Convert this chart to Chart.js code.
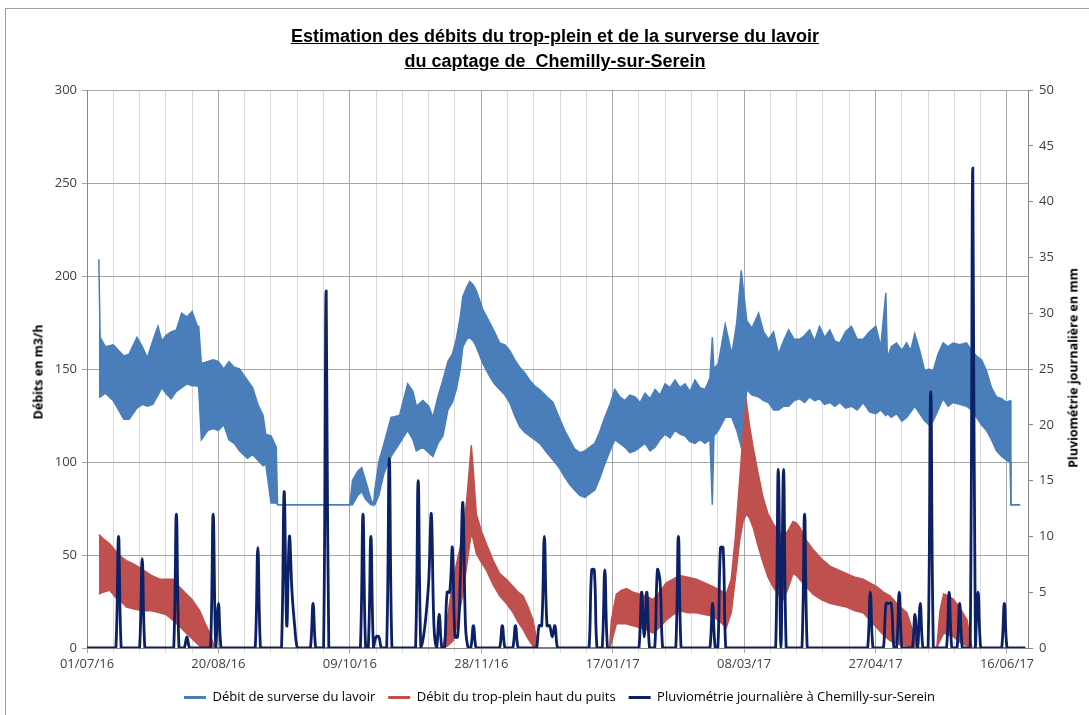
<!DOCTYPE html>
<html lang="fr">
<head>
<meta charset="utf-8">
<title>Estimation des débits - Chemilly-sur-Serein</title>
<script src="https://cdn.jsdelivr.net/npm/chart.js@4.4.1/dist/chart.umd.min.js"></script>
<style>
  html, body { margin: 0; padding: 0; background: #fff; }
  #wrap { position: relative; width: 1089px; height: 715px; overflow: hidden; }
  #frame { position: absolute; left: 5px; top: 8px; right: -3px; bottom: -3px; border: 1px solid #a0a0a0; }
  #titre {
    position: absolute; left: 0; top: 24px; width: 1110px; text-align: center;
    font: bold 18px "Liberation Sans Narrow", "Arial Narrow", sans-serif; line-height: 25px;
    color: #000; text-decoration: underline; white-space: pre;
  }
  .axe {
    position: absolute; font: bold 12.5px "Open Sans", sans-serif; color: #000; white-space: nowrap;
    transform: translate(-50%, -50%) rotate(-90deg);
  }
  canvas { position: absolute; left: 0; top: 0; }
</style>
</head>
<body>
<div id="wrap">
  <div id="frame"></div>
  <canvas id="graph" width="1089" height="715"></canvas>
  <div id="titre">Estimation des débits du trop-plein et de la surverse du lavoir
du captage de  Chemilly-sur-Serein</div>
  <div class="axe" style="left:38px; top:372px;">Débits en m3/h</div>
  <div class="axe" style="left:1073px; top:368px;">Pluviométrie journalière en mm</div>
</div>
<script>
// jours comptés depuis le 01/07/16
const xTickLabels = ["01/07/16", "20/08/16", "09/10/16", "28/11/16", "17/01/17", "08/03/17", "27/04/17", "16/06/17"];

// débit de surverse du lavoir (m3/h) : enveloppe haute / basse de la bande
const blueDays = [4.5, 5, 7, 10, 12, 14, 16, 19, 21, 23, 25, 27, 28.5, 30, 32, 34, 36, 38, 40, 42, 42.5,
  43.5, 46, 48, 50, 52, 54, 56, 58, 61, 63, 65, 67, 68, 70, 72, 72.5, 100, 101, 103, 104.5, 106, 108, 109,
  109.5, 111, 113, 115.7, 118.9, 122, 124, 125.3, 127.8, 130, 131.6, 133.5, 135.4, 137.3, 139, 140.5, 142,
  143, 144.5, 145.6, 147, 148.1, 150.6, 153.2, 155, 157, 159, 160.8, 162.7, 164.6, 166.5, 168.4, 170.3,
  172.2, 175, 177.3, 179.6, 181.7, 183.6, 185.5, 187.5, 189.4, 191.3, 193.2, 195, 197, 199, 200.8, 202.7,
  204.6, 206.5, 208.5, 210.4, 212.3, 214.2, 216.1, 218, 219.9, 221.8, 223.7, 225.6, 227.5, 229.4, 231.3,
  233.2, 235.1, 237, 237.9, 238.5, 240.2, 242.8, 245.3, 247.2, 248.9, 251, 253, 255.5, 257.4, 259.3, 261.2,
  263.1, 265, 266.9, 269, 271.1, 273, 274.9, 276.8, 278.7, 280.6, 282.6, 284.5, 286.4, 288.6, 290.8, 293,
  295.3, 297.7, 300.1, 302, 303.9, 304.5, 306, 308, 310, 311.8, 313.4, 314.9, 316.8, 318.7, 320.3, 321.9,
  323.8, 325.7, 327.6, 329.5, 332, 334.6, 336.5, 338.4, 340.3, 342.2, 344.1, 346, 348, 349.8, 351.2, 351.5, 355];
const blueHigh = [209, 167, 162, 163, 160, 157, 158, 167, 162, 156, 165, 173, 165, 168, 170, 171, 180, 178, 181, 173, 173,
  153, 154, 155, 154, 150, 154, 151, 150, 144, 140, 131, 125, 115, 114, 108, 77, 77, 90, 95, 97, 90, 80, 77,
  85, 100, 110, 124, 125, 142, 138, 130, 133, 130, 124, 135, 144, 154, 158, 166, 178,
  189, 194, 197, 195, 192, 182, 175, 170, 164, 163, 160, 155, 151, 148, 144, 141,
  139, 135, 132, 124, 117, 112, 107, 105, 106, 108, 110, 116, 124, 131, 139, 135,
  133, 136, 135, 132, 137, 134, 139, 136, 142, 140, 144, 140, 142, 138, 144,
  140, 139, 145, 167, 150, 153, 174, 158, 175, 203, 176, 172, 180, 170, 166, 170,
  158, 165, 171, 166, 166, 168, 171, 165, 173, 167, 171, 165, 164, 170, 173, 166,
  166, 170, 173, 162, 191, 156, 162, 164, 160, 164, 160, 169, 160, 149, 150, 149,
  158, 164, 162, 164, 163, 164, 160, 157, 155, 149, 140, 135, 134, 132, 133, 77, 77];
const blueLow = [135, 135, 137, 133, 128, 123, 123, 129, 131, 130, 131, 136, 140, 137, 134, 138, 140, 142, 141, 141, 140,
  112, 117, 118, 117, 120, 112, 110, 106, 102, 104, 101, 98, 99, 78, 78, 77, 77, 77, 82, 84, 80, 77, 77,
  77, 82, 94, 103, 110, 117, 112, 106, 108, 105, 103, 110, 114, 128, 132, 139, 150,
  162, 166, 167, 165, 162, 153, 146, 142, 139, 136, 132, 125, 119, 116, 114, 112,
  110, 105, 101, 97, 92, 88, 85, 82, 81, 83, 85, 91, 99, 106, 112, 110,
  108, 105, 106, 108, 110, 106, 108, 112, 115, 113, 117, 115, 114, 111, 110,
  112, 110, 112, 77, 114, 117, 124, 124, 117, 108, 139, 136, 135, 133, 132, 128,
  128, 130, 130, 133, 134, 132, 135, 133, 134, 131, 132, 130, 132, 129, 130, 128,
  132, 127, 126, 128, 125, 126, 124, 126, 122, 124, 127, 130, 126, 122, 120, 122,
  128, 134, 130, 132, 131, 130, 128, 124, 120, 117, 112, 106, 103, 101, 100, 77, 77];

// débit du trop-plein haut du puits (m3/h)
const redDays = [4.5, 6, 8.6, 11, 13, 15, 18, 21.3, 24.5, 27.7, 30, 32.7, 35, 37.8, 40, 42.9, 45, 46.7, 48.6,
  135.5, 137, 139.3, 141, 143, 144.5, 146.2, 147, 148.1, 150, 151.9, 154.5, 157, 159.5, 162.1, 164, 165.9,
  167.8, 169.7, 171.6, 198.8, 199.5, 201.4, 203.3, 205.2, 207.7, 210.2, 212.7, 215.3, 217.8, 220.4, 223,
  225.5, 228.6, 231.8, 235, 238.2, 241, 243.2, 245.1, 246.7, 248.3, 249.6, 250.8, 252, 253.4, 255.3, 257.2,
  259.1, 261, 262.9, 264.8, 266.7, 268.6, 270, 271.1, 273.6, 276.2, 279.4, 282.6, 285.8, 289, 292.2, 295.3,
  297.8, 300.4, 303, 305.5, 308.7, 311.9, 314, 316.3, 323.3, 324.5, 325.9, 327.8, 329.7, 332.3, 334.8, 336.7, 352];
const redHigh = [61, 59, 56, 52, 49, 47, 45, 42, 39, 37, 37, 37, 33, 29, 26, 20, 13, 8, 0,
  0, 15, 37, 48, 60, 80, 109, 95, 72, 63, 56, 47, 40, 37, 33, 30, 28,
  22, 15, 0, 0, 15, 29, 31, 32, 30, 29, 28, 26, 30, 35, 37,
  39, 38, 37, 35, 33, 31, 29, 37, 60, 90, 115, 133, 120, 108, 94, 81,
  72, 67, 63, 60, 63, 68, 67, 65, 58, 53, 48, 44, 42, 40, 38, 37,
  35, 33, 30, 28, 23, 19, 10, 0, 0, 20, 29, 28, 26, 21, 15, 0, 0];
const redLow = [29, 30, 31, 27, 25, 22, 21, 20, 20, 19, 18, 15, 12, 8, 5, 1, 0, 0, 0,
  0, 1, 4, 14, 29, 45, 62, 58, 51, 46, 42, 34, 28, 24, 19, 14, 10,
  5, 1, 0, 0, 3, 13, 13, 13, 12, 11, 10, 8, 11, 15, 18,
  20, 19, 19, 18, 17, 14, 11, 19, 38, 58, 68, 72, 70, 65, 55, 46,
  38, 33, 29, 26, 32, 40, 39, 37, 33, 29, 26, 24, 23, 22, 20, 19,
  15, 11, 7, 4, 2, 1, 0, 0, 0, 4, 8, 7, 6, 3, 1, 0, 0];

// pluviométrie journalière (mm), jours de pluie seulement
const rainDays = [12, 21, 34, 38, 48, 50, 65, 75, 76, 77, 78, 79, 86, 91, 105, 108, 110, 111, 115, 126,
  128, 129, 130, 131, 132, 134, 137, 138, 139, 140, 141, 142, 143, 144, 147, 158, 163, 172, 173, 174, 175,
  176, 177, 178, 192, 193, 197, 211, 212, 213, 217, 218, 225, 238, 241, 242, 263, 265, 273, 298, 304, 305,
  306, 309, 315, 317, 321, 328, 332, 337, 339, 349];
const rainMm = [10, 8, 12, 1, 12, 4, 9, 14, 2, 10, 5, 2, 4, 32, 12, 10, 1, 1, 17, 15,
  1, 3, 6, 12, 2, 3, 5, 5, 9, 1, 1, 6, 13, 2, 2, 2, 2, 2, 2, 10, 2,
  2, 1, 2, 7, 7, 7, 5, 1, 5, 7, 6, 10, 4, 9, 9, 16, 16, 12, 5, 4, 4,
  4, 5, 3, 4, 23, 5, 4, 43, 5, 4];

const lastDay = 357;
const bleu = "#4a7ebb";
const rouge = "#c0504d";
const marine = "#0b2066";

const toPoints = (days, vals) => days.map((d, i) => ({ x: d, y: vals[i] }));

const rainPoints = [];
for (let d = 0; d <= lastDay; d++) {
  const k = rainDays.indexOf(d);
  rainPoints.push({ x: d, y: k >= 0 ? rainMm[k] : 0 });
}

// lignes verticales tous les 10 jours, étiquette tous les 50 jours
const gridDays = [];
for (let d = 0; d <= 350; d += 10) gridDays.push(d);

const legendNames = [
  "Débit de surverse du lavoir",
  "Débit du trop-plein haut du puits",
  "Pluviométrie journalière à Chemilly-sur-Serein",
];
const legendColors = [bleu, rouge, marine];

const bande = (data, color, fill, order) => ({
  data,
  yAxisID: "y",
  borderColor: color,
  backgroundColor: color,
  borderWidth: 1.5,
  pointRadius: 0,
  tension: 0,
  fill,
  order,
});

new Chart(document.getElementById("graph"), {
  type: "line",
  data: {
    datasets: [
      {
        data: rainPoints,
        yAxisID: "y2",
        borderColor: marine,
        borderWidth: 2.8,
        pointRadius: 0,
        tension: 0.4,
        fill: false,
        order: 0,
      },
      bande(toPoints(redDays, redHigh), rouge, "+1", 1),
      bande(toPoints(redDays, redLow), rouge, false, 1),
      bande(toPoints(blueDays, blueHigh), bleu, "+1", 2),
      bande(toPoints(blueDays, blueLow), bleu, false, 2),
    ],
  },
  options: {
    responsive: false,
    animation: false,
    parsing: false,
    layout: { padding: { top: 90, left: 30, right: 0, bottom: 1 } },
    plugins: {
      title: { display: false },
      tooltip: { enabled: false },
      legend: {
        position: "bottom",
        labels: {
          usePointStyle: true,
          pointStyleWidth: 22,
          padding: 13,
          color: "#404040",
          font: { family: "Open Sans", size: 13 },
          generateLabels: () =>
            legendNames.map((text, i) => ({
              text,
              strokeStyle: legendColors[i],
              fillStyle: legendColors[i],
              lineWidth: 3,
              pointStyle: "line",
              hidden: false,
              datasetIndex: i === 2 ? 0 : i * 2 + 1,
            })),
        },
      },
    },
    scales: {
      x: {
        type: "linear",
        min: 0,
        max: 358,
        afterBuildTicks: (axis) => {
          axis.ticks = gridDays.map((v) => ({ value: v }));
        },
        afterFit: (axis) => {
          axis.height = 30;
        },
        ticks: {
          autoSkip: false,
          maxRotation: 0,
          padding: 3,
          color: "#404040",
          font: { family: "Open Sans", size: 13 },
          callback: (v) => (v % 50 === 0 ? xTickLabels[v / 50] : ""),
        },
        grid: {
          color: (c) => (c.tick && c.tick.value % 50 === 0 ? "#a6a6a6" : "#d9d9d9"),
          tickLength: 5,
        },
        border: { color: "#868686" },
      },
      y: {
        position: "left",
        min: 0,
        max: 300,
        afterFit: (axis) => {
          axis.width = 57;
        },
        ticks: {
          stepSize: 50,
          padding: 5,
          color: "#404040",
          font: { family: "Open Sans", size: 13 },
        },
        grid: { color: "#a6a6a6", tickLength: 5 },
        border: { color: "#868686" },
      },
      y2: {
        position: "right",
        min: 0,
        max: 50,
        afterFit: (axis) => {
          axis.width = 61;
        },
        ticks: {
          stepSize: 5,
          padding: 6,
          color: "#404040",
          font: { family: "Open Sans", size: 13 },
        },
        grid: { drawOnChartArea: false, color: "#868686", tickLength: 5 },
        border: { color: "#868686" },
      },
    },
  },
});
</script>
</body>
</html>
